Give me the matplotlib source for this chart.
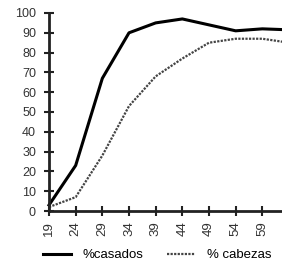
import numpy as np
import matplotlib.pyplot as plt

#### data #####
edades = [19, 24, 29, 34, 39, 44, 49, 54, 59, 64]
casados = [3, 23, 67, 90, 95, 97, 94, 91, 92, 91.5]
cabezas = [2, 7, 28, 53, 68, 77, 85, 87, 87, 85]
yticks = [0, 10, 20, 30, 40, 50, 60, 70, 80, 90, 100]

plt.rcParams['font.family'] = ['Liberation Sans', 'DejaVu Sans']

W, H = 282, 267
fig = plt.figure(figsize=(W / 100, H / 100), dpi=100)
# axes run past the right edge of the figure, like the original crop
ax = fig.add_axes([49 / W, (H - 211) / H, (289 - 49) / W, (211 - 13) / H])

ax.plot(edades, casados, color='black', linewidth=2.2, label='%casados', clip_on=False)
ax.plot(edades, cabezas, color='#444444', linewidth=1.6, linestyle=(0, (1, 0.6)),
        label='% cabezas', clip_on=False)

ax.set_xlim(19, 64)
ax.set_ylim(0, 100)
ax.set_xticks(edades)
ax.set_xticklabels([str(e) for e in edades], rotation=90, fontsize=9.5)
ax.set_yticks(yticks)
ax.set_yticklabels([str(v) for v in yticks], fontsize=9)
ax.tick_params(axis='both', direction='inout', length=7.2, width=1.5, colors='#222222',
               labelcolor='#333333')
ax.tick_params(axis='y', pad=5.8)
ax.tick_params(axis='x', pad=3.6)

for s in ['top', 'right']:
    ax.spines[s].set_visible(False)
for s in ['left', 'bottom']:
    ax.spines[s].set_linewidth(2)
    ax.spines[s].set_color('#222222')

fig.legend(loc='center left', bbox_to_anchor=(43 / W, 12 / H), ncol=2, frameon=False,
           borderpad=0, borderaxespad=0, fontsize=9.5, handlelength=2.1,
           columnspacing=1.8, handletextpad=0.9)

fig.savefig('out.png', dpi=100)
